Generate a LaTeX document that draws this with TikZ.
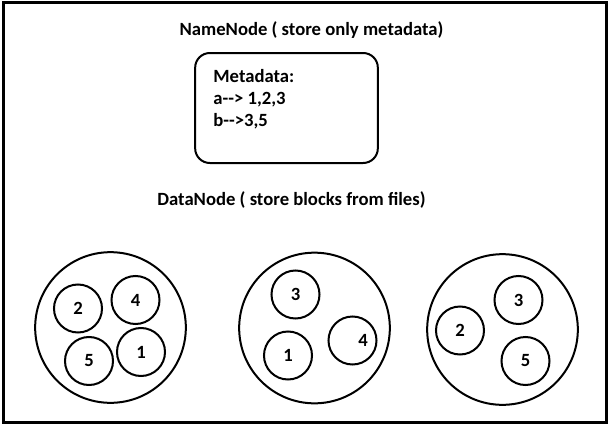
\documentclass[tikz,border=0pt]{standalone}
\usepackage{fontspec}
\setmainfont{Carlito}
\usetikzlibrary{positioning}
\begin{document}
\begin{tikzpicture}[x=.75pt, y=-.75pt,
  font=\fontsize{14}{16.5}\selectfont\bfseries,
  datanode/.style={draw, circle, line width=1.5pt, minimum size=113pt, inner sep=0pt},
  block/.style={draw, circle, line width=1.5pt, minimum size=36pt, inner sep=0pt}]
\useasboundingbox (0, 0) rectangle (608, 425);
\draw[line width=2.6pt] (3.5, 2.5) rectangle (606.5, 422.5);

\node[anchor=base] (nametitle) at (311.5, 35) {NameNode ( store only metadata)};
\node[draw, line width=1.5pt, rounded corners=11pt, minimum width=137pt, minimum height=82.5pt] (namebox) at (286.5, 108) {};
\node[below right=12.75pt and 14.25pt of namebox.north west, inner sep=0pt, align=left] (metadata) {Metadata:\\a-{}-> 1,2,3\\b-{}->3,5};

\node[anchor=base] (datatitle) at (291.5, 205) {DataNode ( store blocks from files)};

\node[datanode] (dn1) at (110.5, 327.5) {};
\node[datanode] (dn2) at (314.5, 328) {};
\node[datanode] (dn3) at (502.5, 329.5) {};

\node[block] (b12) at (78, 308.5) {2};
\node[block] (b14) at (135.5, 300) {4};
\node[block] (b15) at (89, 361) {5};
\node[block] (b11) at (141, 352) {1};

\node[block] (b23) at (295.5, 294.5) {3};
\node[block] (b21) at (288, 355.5) {1};
\node[block, label={[xshift=8pt]center:4}] (b24) at (352.5, 340.5) {};

\node[block] (b33) at (518.5, 300) {3};
\node[block] (b32) at (460, 330.5) {2};
\node[block] (b35) at (525.5, 361) {5};
\end{tikzpicture}
\end{document}
